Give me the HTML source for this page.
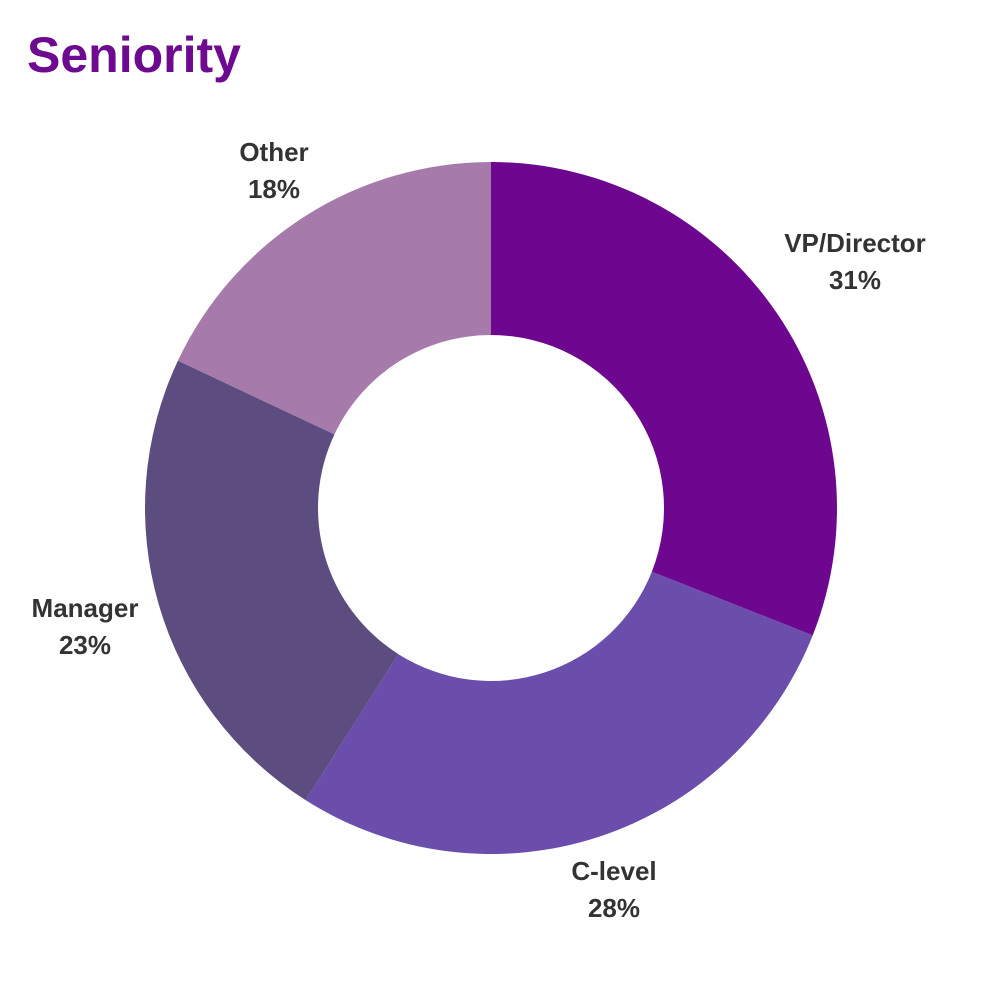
<!DOCTYPE html>
<html><head><meta charset="utf-8"><style>
html,body{margin:0;padding:0;background:#fff;}
body{width:1000px;height:1000px;position:relative;overflow:hidden;font-family:"Liberation Sans",sans-serif;}
.t{position:absolute;left:27px;top:26px;font-size:50px;font-weight:bold;color:#6e0a90;}
.l{position:absolute;font-size:26px;font-weight:bold;color:#333;text-align:center;line-height:37px;width:240px;}
</style></head><body>
<div class="t">Seniority</div>
<svg id="s" width="1000" height="1000" style="position:absolute;left:0;top:0"></svg>
<div class="l" style="left:735px;top:225px">VP/Director<br>31%</div>
<div class="l" style="left:494px;top:853px">C-level<br>28%</div>
<div class="l" style="left:-35px;top:590px">Manager<br>23%</div>
<div class="l" style="left:154px;top:134px">Other<br>18%</div>
<script>
var cx=491,cy=508,R=346,r=173;
var d=[[31,"#6e078f"],[28,"#6b4dac"],[23,"#5d4c7f"],[18,"#a67bab"]];
var a=0,h="";
function p(rad,ang){var t=ang*Math.PI/180;return (cx+rad*Math.sin(t)).toFixed(2)+" "+(cy-rad*Math.cos(t)).toFixed(2);}
d.forEach(function(s){var b=a+s[0]*3.6;var L=(b-a)>180?1:0;
h+='<path fill="'+s[1]+'" d="M'+p(R,a)+' A'+R+' '+R+' 0 '+L+' 1 '+p(R,b)+' L'+p(r,b)+' A'+r+' '+r+' 0 '+L+' 0 '+p(r,a)+' Z"/>';a=b;});
document.getElementById("s").innerHTML=h;
</script>
</body></html>
